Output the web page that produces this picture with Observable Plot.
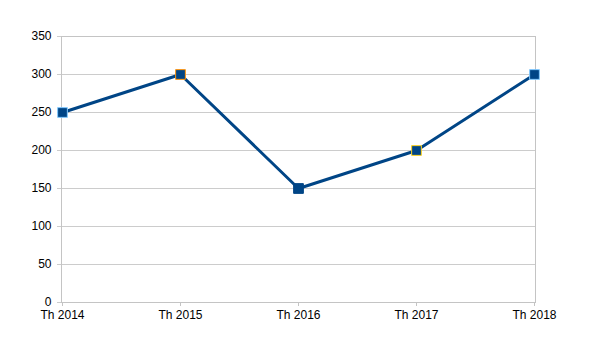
<!DOCTYPE html>
<html><head><meta charset="utf-8">
<script src="https://cdn.jsdelivr.net/npm/d3@7"></script>
<script src="https://cdn.jsdelivr.net/npm/@observablehq/plot@0.6"></script>
<style>body{margin:0;background:#fff;font-family:"Liberation Sans",Arial,sans-serif}</style>
</head><body><div id="chart"></div>
<script>
const categories = ["Th 2014","Th 2015","Th 2016","Th 2017","Th 2018"];
const values = [250, 300, 150, 200, 300];
const markerStrokes = ["#83caff","#ff950e","#004586","#ffd320","#83caff"];
const yTicks = [0,50,100,150,200,250,300,350];
const data = categories.map((c,i)=>({c, v: values[i], s: markerStrokes[i]}));
const plot = Plot.plot({
  width: 600, height: 358,
  marginLeft: 61, marginRight: 65, marginTop: 36, marginBottom: 56,
  style: {fontFamily: '"Liberation Sans", Arial, sans-serif', fontSize: "12px", color: "#000", background: "#fff"},
  x: {type: "point", domain: categories, padding: 0, label: null},
  y: {type: "linear", domain: [0,350], ticks: yTicks, label: null},
  marks: [
    Plot.ruleY(yTicks, {stroke: "#cccccc", strokeWidth: 1, insetLeft: -4}),
    Plot.frame({stroke: "#c4c4c4"}),
    Plot.ruleX(categories, {x: d=>d, y1: 0, y2: 0, insetBottom: -4, stroke: "#c4c4c4"}),
    Plot.axisY({ticks: yTicks, tickSize: 0, tickPadding: 10, fill: "#000", fontSize: 12}),
    Plot.axisX({tickSize: 0, tickPadding: 8, fill: "#000", fontSize: 12}),
    Plot.line(data, {x: "c", y: "v", stroke: "#004586", strokeWidth: 3}),
    Plot.dot(data, {x: "c", y: "v", symbol: "square", r: 5.5, fill: "#004586", stroke: "s", strokeWidth: 1})
  ]
});
document.getElementById("chart").appendChild(plot);
</script></body></html>
